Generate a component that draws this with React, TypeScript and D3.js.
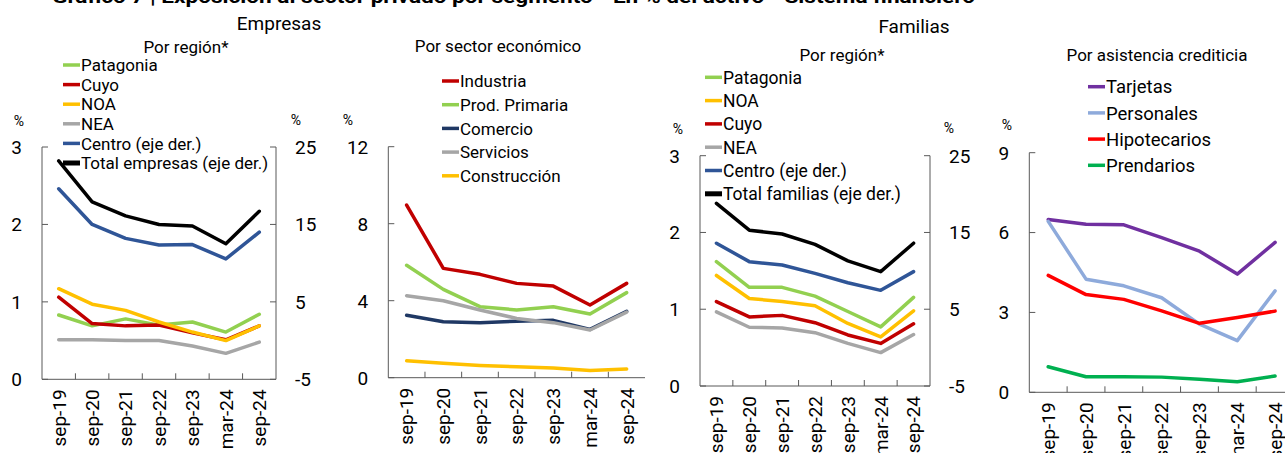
import React from 'react';
import * as d3 from 'd3';

const categories = ['sep-19', 'sep-20', 'sep-21', 'sep-22', 'sep-23', 'mar-24', 'sep-24'];

// Empresas - por región (izq. %, der. %)
const patagoniaEmp = [0.83, 0.69, 0.78, 0.70, 0.74, 0.61, 0.84];
const cuyoEmp = [1.06, 0.72, 0.69, 0.70, 0.60, 0.51, 0.69];
const noaEmp = [1.17, 0.97, 0.89, 0.74, 0.61, 0.50, 0.69];
const neaEmp = [0.51, 0.51, 0.50, 0.50, 0.43, 0.335, 0.48];
const centroEmp = [19.6, 15.0, 13.2, 12.35, 12.4, 10.55, 14.0];
const totalEmp = [23.2, 17.9, 16.1, 15.0, 14.8, 12.5, 16.7];

// Empresas - por sector económico
const industria = [8.97, 5.68, 5.37, 4.90, 4.76, 3.78, 4.90];
const prodPrimaria = [5.84, 4.59, 3.69, 3.52, 3.69, 3.31, 4.42];
const comercio = [3.24, 2.91, 2.86, 2.93, 2.98, 2.51, 3.45];
const servicios = [4.26, 4.0, 3.52, 3.08, 2.86, 2.48, 3.41];
const construccion = [0.88, 0.75, 0.64, 0.57, 0.50, 0.38, 0.45];

// Familias - por región
const patagoniaFam = [1.62, 1.285, 1.285, 1.17, 0.97, 0.77, 1.155];
const noaFam = [1.44, 1.14, 1.10, 1.045, 0.815, 0.64, 0.98];
const cuyoFam = [1.10, 0.90, 0.92, 0.825, 0.665, 0.555, 0.81];
const neaFam = [0.965, 0.765, 0.755, 0.695, 0.555, 0.435, 0.67];
const centroFam = [13.6, 11.2, 10.76, 9.67, 8.45, 7.46, 9.9];
const totalFam = [18.8, 15.3, 14.8, 13.45, 11.3, 9.9, 13.6];

// Familias - por asistencia crediticia
const tarjetas = [6.49, 6.31, 6.29, 5.81, 5.30, 4.44, 5.63];
const personales = [6.42, 4.25, 4.0, 3.55, 2.56, 1.94, 3.81];
const hipotecarios = [4.39, 3.67, 3.49, 3.06, 2.59, 2.81, 3.05];
const prendarios = [0.96, 0.585, 0.585, 0.57, 0.49, 0.40, 0.61];

const leftTicksRegion = [0, 1, 2, 3];
const rightTicksRegion = [-5, 5, 15, 25];
const ticksSector = [0, 4, 8, 12];
const ticksAsistencia = [0, 3, 6, 9];

const FONT = 'Roboto, "Noto Sans", sans-serif';
const AXIS = '#595959';

type Series = { name: string; values: number[]; color: string; right?: boolean; swatch?: number };

type PanelProps = {
  x0: number; x1: number; yTop: number; yBottom: number;
  leftDomain: [number, number]; leftTicks: number[];
  rightDomain?: [number, number]; rightTicks?: number[];
  series: Series[];
  subtitle: string; subX: number; subY: number;
  legX: number; legY: number; legStep: number; legFont: number;
  pctLeft: [number, number]; pctRight?: [number, number];
};

const Panel = (p: PanelProps) => {
  const x = d3.scaleBand().domain(categories).range([p.x0, p.x1]);
  const yL = d3.scaleLinear().domain(p.leftDomain).range([p.yBottom, p.yTop]);
  const yR = p.rightDomain ? d3.scaleLinear().domain(p.rightDomain).range([p.yBottom, p.yTop]) : null;
  const mk = (s: Series) =>
    d3.line<number>()
      .x((_, i) => (x(categories[i]) as number) + x.bandwidth() / 2)
      .y(v => (s.right && yR ? yR(v) : yL(v)))(s.values) as string;

  return (
    <g>
      {/* axes */}
      <line x1={p.x0} x2={p.x0} y1={p.yTop} y2={p.yBottom} stroke={AXIS} />
      <line x1={p.x0} x2={p.x1} y1={p.yBottom} y2={p.yBottom} stroke={AXIS} />
      {yR && <line x1={p.x1} x2={p.x1} y1={p.yTop} y2={p.yBottom} stroke={AXIS} />}
      {p.leftTicks.map(t => (
        <g key={'l' + t}>
          <line x1={p.x0} x2={p.x0 + 6} y1={yL(t)} y2={yL(t)} stroke={AXIS} />
          <text x={p.x0 - 20} y={yL(t)} dy="0.36em" textAnchor="end" fontSize={19}>{t}</text>
        </g>
      ))}
      {yR && p.rightTicks!.map(t => (
        <g key={'r' + t}>
          <line x1={p.x1} x2={p.x1 - 6} y1={yR(t)} y2={yR(t)} stroke={AXIS} />
          <text x={p.x1 + 19} y={yR(t)} dy="0.36em" textAnchor="start" fontSize={19}>{t}</text>
        </g>
      ))}
      {categories.slice(1).map(c => (
        <line key={'t' + c} x1={x(c)} x2={x(c)} y1={p.yBottom} y2={p.yBottom - 6} stroke={AXIS} />
      ))}
      {categories.map(c => {
        const cx = (x(c) as number) + x.bandwidth() / 2;
        const cy = p.yBottom + 10;
        return (
          <text key={'x' + c} transform={`translate(${cx},${cy}) rotate(-90)`} dy="0.36em" textAnchor="end" fontSize={19}>{c}</text>
        );
      })}
      <text x={p.pctLeft[0]} y={p.pctLeft[1]} dy="0.36em" textAnchor="middle" fontSize={14}>%</text>
      {p.pctRight && <text x={p.pctRight[0]} y={p.pctRight[1]} dy="0.36em" textAnchor="middle" fontSize={14}>%</text>}

      {/* lines */}
      {p.series.map(s => (
        <path key={s.name} d={mk(s)} fill="none" stroke={s.color} strokeWidth={3.5} strokeLinejoin="round" strokeLinecap="round" />
      ))}

      {/* legend */}
      <text x={p.subX} y={p.subY} textAnchor="middle" fontSize={17}>{p.subtitle}</text>
      {p.series.map((s, i) => {
        const ly = p.legY + i * p.legStep;
        return (
          <g key={'lg' + s.name}>
            <line x1={p.legX} x2={p.legX + 17} y1={ly} y2={ly} stroke={s.color} strokeWidth={s.swatch ?? 3.5} />
            <text x={p.legX + 18} y={ly} dy="0.36em" fontSize={p.legFont}>{s.name}</text>
          </g>
        );
      })}
    </g>
  );
};

const App = () => {
  return (
    <svg width={1285} height={453} style={{ position: 'absolute', left: 0, top: 0, background: '#fff' }} fontFamily={FONT} fill="#000">
      <text x={52} y={3} fontSize={18} fontWeight="bold" textLength={923} lengthAdjust="spacingAndGlyphs">
        Gráfico 7 | Exposición al sector privado por segmento - En % del activo - Sistema financiero
      </text>
      <text x={279} y={30} textAnchor="middle" fontSize={19}>Empresas</text>
      <text x={914} y={33} textAnchor="middle" fontSize={19}>Familias</text>

      <Panel
        x0={42} x1={276} yTop={147} yBottom={379.3}
        leftDomain={[0, 3]} leftTicks={leftTicksRegion}
        rightDomain={[-5, 25]} rightTicks={rightTicksRegion}
        series={[
          { name: 'Patagonia', values: patagoniaEmp, color: '#92d050' },
          { name: 'Cuyo', values: cuyoEmp, color: '#c00000' },
          { name: 'NOA', values: noaEmp, color: '#ffc000' },
          { name: 'NEA', values: neaEmp, color: '#a6a6a6' },
          { name: 'Centro (eje der.)', values: centroEmp, color: '#2f5597', right: true },
          { name: 'Total empresas (eje der.)', values: totalEmp, color: '#000000', right: true, swatch: 5 },
        ]}
        subtitle="Por región*" subX={186} subY={53}
        legX={63} legY={65} legStep={19.6} legFont={17}
        pctLeft={[19, 121]} pctRight={[296, 120]}
      />
      <Panel
        x0={388.3} x1={645} yTop={146.7} yBottom={377.7}
        leftDomain={[0, 12]} leftTicks={ticksSector}
        series={[
          { name: 'Industria', values: industria, color: '#c00000' },
          { name: 'Prod. Primaria', values: prodPrimaria, color: '#92d050' },
          { name: 'Comercio', values: comercio, color: '#1f3864' },
          { name: 'Servicios', values: servicios, color: '#a6a6a6' },
          { name: 'Construcción', values: construccion, color: '#ffc000' },
        ]}
        subtitle="Por sector económico" subX={498} subY={52}
        legX={442} legY={81} legStep={23.7} legFont={17}
        pctLeft={[348, 120]}
      />
      <Panel
        x0={700} x1={930} yTop={155.7} yBottom={386}
        leftDomain={[0, 3]} leftTicks={leftTicksRegion}
        rightDomain={[-5, 25]} rightTicks={rightTicksRegion}
        series={[
          { name: 'Patagonia', values: patagoniaFam, color: '#92d050' },
          { name: 'NOA', values: noaFam, color: '#ffc000' },
          { name: 'Cuyo', values: cuyoFam, color: '#c00000' },
          { name: 'NEA', values: neaFam, color: '#a6a6a6' },
          { name: 'Centro (eje der.)', values: centroFam, color: '#2f5597', right: true },
          { name: 'Total familias (eje der.)', values: totalFam, color: '#000000', right: true, swatch: 5 },
        ]}
        subtitle="Por región*" subX={842} subY={61}
        legX={705} legY={77.3} legStep={23.3} legFont={17.5}
        pctLeft={[678, 129]} pctRight={[949, 128]}
      />
      <Panel
        x0={1029.3} x1={1294} yTop={152.7} yBottom={392.3}
        leftDomain={[0, 9]} leftTicks={ticksAsistencia}
        series={[
          { name: 'Tarjetas', values: tarjetas, color: '#7030a0' },
          { name: 'Personales', values: personales, color: '#8eaadb' },
          { name: 'Hipotecarios', values: hipotecarios, color: '#ff0000' },
          { name: 'Prendarios', values: prendarios, color: '#00b050' },
        ]}
        subtitle="Por asistencia crediticia" subX={1157} subY={61}
        legX={1088} legY={86.7} legStep={26.2} legFont={18.5}
        pctLeft={[1007, 125]}
      />
    </svg>
  );
};

export default App;
